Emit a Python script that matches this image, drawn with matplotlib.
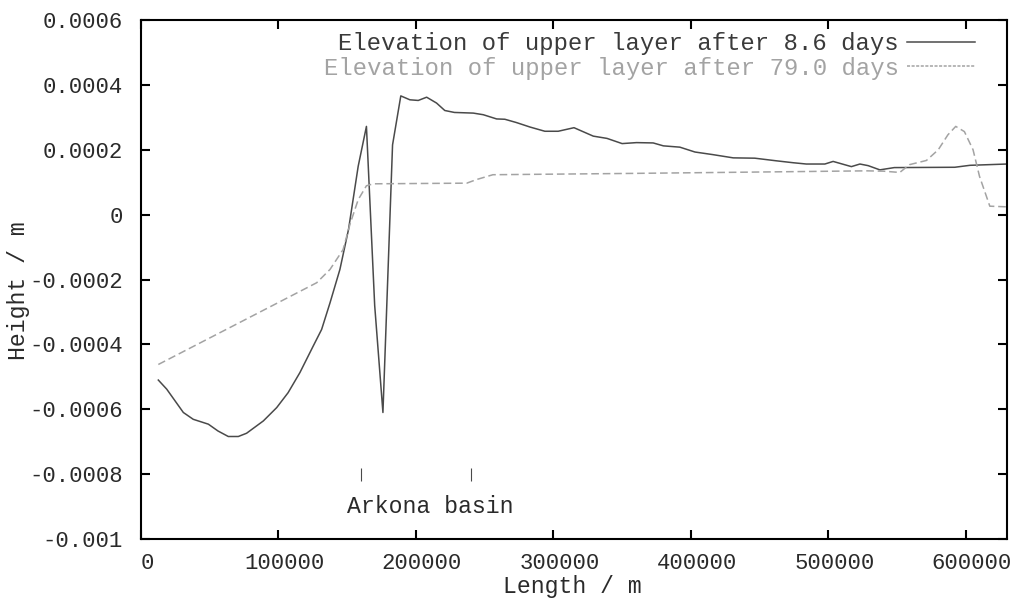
import matplotlib
matplotlib.use("Agg")
import matplotlib.pyplot as plt
from matplotlib.lines import Line2D
from matplotlib.ticker import FuncFormatter, FixedLocator
import matplotlib.transforms as mtransforms

# ---------------- data ----------------
day86_x = [12600, 18700, 30800, 38000, 49000, 56000, 63500, 70800, 76800, 89000,
           98700, 107000, 115600, 125300, 131400, 137500, 144700, 151000, 158000, 164000,
           170000, 176000, 183000, 189000, 195600, 201700, 207800, 215000, 221000, 228000,
           241700, 249000, 258700, 264700, 273000, 283000, 293800, 303500, 315000, 329000,
           339000, 350000, 360500, 372600, 380000, 392000, 403000, 416000, 430800, 446500,
           462000, 474400, 484000, 497500, 503500, 516800, 523000, 529000, 537500, 548000,
           592000, 603000, 630000]
day86_y = [-0.000510, -0.000538, -0.000610, -0.000631, -0.000646, -0.000667, -0.000684, -0.000684, -0.000674, -0.000636,
           -0.000595, -0.000549, -0.000487, -0.000405, -0.000354, -0.000272, -0.000169, -0.000045, 0.000149, 0.000272,
           -0.000280, -0.000610, 0.000215, 0.000366, 0.000354, 0.000352, 0.000362, 0.000344, 0.000321, 0.000315,
           0.000313, 0.000308, 0.000295, 0.000294, 0.000284, 0.000270, 0.000257, 0.000257, 0.000268, 0.000242,
           0.000235, 0.000219, 0.000222, 0.000221, 0.000212, 0.000208, 0.000193, 0.000185, 0.000175, 0.000174,
           0.000166, 0.000160, 0.000156, 0.000156, 0.000164, 0.000148, 0.000156, 0.000151, 0.000138, 0.000145,
           0.000146, 0.000152, 0.000156]

day79_x = [12600, 127800, 137500, 147000, 152000, 158000, 164000, 169000, 237000, 244000,
           256000, 355600, 421000, 527800, 540000, 552000, 559000, 571400, 580000, 587000,
           592700, 599000, 605300, 610000, 617500, 630000]
day79_y = [-0.000462, -0.000210, -0.000169, -0.000108, -0.000030, 0.000046, 0.000089, 0.000095, 0.000097, 0.000108,
           0.000123, 0.000127, 0.000130, 0.000135, 0.000134, 0.000130, 0.000154, 0.000167, 0.000200, 0.000246,
           0.000272, 0.000256, 0.000200, 0.000118, 0.000026, 0.000024]

labels = ["Elevation of upper layer after 8.6 days",
          "Elevation of upper layer after 79.0 days"]

basin_marks_x = [160000, 240000]
basin_mark_y0 = -0.00078
basin_mark_y1 = -0.00082
basin_label = "Arkona basin"
basin_label_x = 150000
basin_label_y = -0.0009

x_ticks = [0, 100000, 200000, 300000, 400000, 500000, 600000]
y_ticks = [-0.001, -0.0008, -0.0006, -0.0004, -0.0002, 0, 0.0002, 0.0004, 0.0006]
x_label = "Length / m"
y_label = "Height / m"

# ---------------- style ----------------
FONT = "Liberation Mono"
plt.rcParams["font.family"] = [FONT, "DejaVu Sans Mono"]
plt.rcParams["axes.unicode_minus"] = False

C_SOLID = "#4a4a4a"
C_DASH = "#a3a3a3"
C_TEXT = "#2a2a2a"
W, H = 1020, 600

fig = plt.figure(figsize=(W / 100, H / 100), dpi=100)
ax = fig.add_axes([141 / W, 1 - 539 / H, (1007 - 141) / W, (539 - 20) / H])

ax.plot(day86_x, day86_y, color=C_SOLID, lw=1.1, label=labels[0])
ax.plot(day79_x, day79_y, color=C_DASH, lw=1.1, dashes=(5, 2.5), label=labels[1])

ax.vlines(basin_marks_x, basin_mark_y1, basin_mark_y0, color=C_SOLID, lw=0.8)
ax.text(basin_label_x, basin_label_y, basin_label, ha="left", va="center",
        fontsize=16.7, color=C_TEXT)

ax.set_xlim(0, 630000)
ax.set_ylim(-0.001, 0.0006)
ax.xaxis.set_major_locator(FixedLocator(x_ticks))
ax.yaxis.set_major_locator(FixedLocator(y_ticks))
ax.xaxis.set_major_formatter(FuncFormatter(lambda v, p: "%d" % round(v)))
ax.yaxis.set_major_formatter(FuncFormatter(lambda v, p: "%g" % round(v, 6) if abs(v) > 1e-12 else "0"))

for s in ax.spines.values():
    s.set_linewidth(1.5)
    s.set_color("black")
ax.tick_params(direction="in", length=6.5, width=1.5, top=True, right=True,
               labelsize=16, labelcolor=C_TEXT)
ax.tick_params(axis="y", pad=13)
ax.tick_params(axis="x", pad=10)

# gnuplot-like small right shift of x tick labels
offset = mtransforms.ScaledTranslation(6 / 100, 0, fig.dpi_scale_trans)
for lbl in ax.get_xticklabels():
    lbl.set_transform(lbl.get_transform() + offset)

fig.text(572 / W, 1 - 587 / H, x_label, ha="center", va="center", fontsize=16.7, color=C_TEXT)
fig.text(19 / W, 1 - 360 / H, y_label, ha="center", va="bottom", rotation=90,
         fontsize=16.7, color=C_TEXT)

handles = [Line2D([], [], color=C_SOLID, lw=1.1),
           Line2D([], [], color=C_DASH, lw=1.1, dashes=(2, 1))]
leg = ax.legend(handles, labels, loc="upper right", bbox_to_anchor=(975 / W, 1 - 32 / H),
                bbox_transform=fig.transFigure, frameon=False, markerfirst=False,
                fontsize=17.2, handlelength=2.85, handletextpad=0.35, labelspacing=0.07,
                borderpad=0, borderaxespad=0, labelcolor=["#3a3a3a", C_DASH])

fig.savefig("out.png", dpi=100)
